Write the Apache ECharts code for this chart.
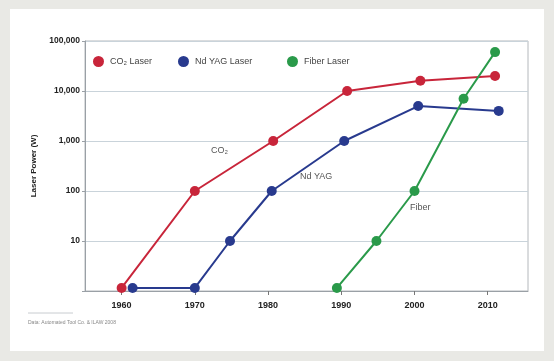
<!DOCTYPE html>
<html><head><meta charset="utf-8">
<script src="https://cdn.jsdelivr.net/npm/echarts@6/dist/echarts.min.js"></script>
<style>html,body{margin:0;padding:0;background:#e9e9e5}#c{width:554px;height:361px}</style>
</head><body><div id="c"></div>
<script>
const seriesNames = ['CO\u2082 Laser', 'Nd YAG Laser', 'Fiber Laser'];
const co2Years = [1960, 1970, 1980.7, 1990.8, 2000.8, 2011];
const co2Power = [1.15, 100, 1000, 10000, 16000, 20000];
const yagYears = [1961.5, 1970, 1974.8, 1980.5, 1990.4, 2000.5, 2011.5];
const yagPower = [1.15, 1.15, 10, 100, 1000, 5000, 4000];
const fiberYears = [1989.4, 1994.8, 2000, 2006.7, 2011];
const fiberPower = [1.15, 10, 100, 7000, 60000];
const xTicks = [1960, 1970, 1980, 1990, 2000, 2010];
const yTicks = [10, 100, 1000, 10000, 100000];
const colors = ['#c8253a', '#283a8e', '#2a9a4a'];

const pairs = (xs, ys) => xs.map((x, i) => [x, ys[i]]);
const chart = echarts.init(document.getElementById('c'));
const mk = (name, data, color) => ({
  name, type: 'line', data, color,
  symbol: 'circle', symbolSize: 10,
  lineStyle: { width: 2, color },
  itemStyle: { color },
  z: 3
});
const legendAt = (name, left) => ({
  left, top: 51, itemWidth: 11, itemHeight: 11, icon: 'circle', itemGap: 0,
  textStyle: { fontSize: 9, color: '#444', fontFamily: 'Arial, sans-serif', padding: [0, 0, 0, 1] },
  data: [name]
});
chart.setOption({
  backgroundColor: '#e9e9e5',
  animation: false,
  graphic: [
    { type: 'rect', z: -100, shape: { x: 10, y: 9, width: 534, height: 342 }, style: { fill: '#ffffff' } },
    { type: 'text', left: 211, top: 146, style: { text: 'CO\u2082', font: '9px Arial, sans-serif', fill: '#555' } },
    { type: 'text', left: 300, top: 172, style: { text: 'Nd YAG', font: '9px Arial, sans-serif', fill: '#555' } },
    { type: 'text', left: 410, top: 203, style: { text: 'Fiber', font: '9px Arial, sans-serif', fill: '#555' } },
    { type: 'line', shape: { x1: 28, y1: 313, x2: 73, y2: 313 }, style: { stroke: '#c8ccd0', lineWidth: 1 } },
    { type: 'text', left: 28, top: 320, style: { text: 'Data: Automated Tool Co. & ILAW 2008', font: '5px Arial, sans-serif', fill: '#888' } }
  ],
  legend: [
    legendAt(seriesNames[0], 88),
    legendAt(seriesNames[1], 173),
    legendAt(seriesNames[2], 282)
  ],
  grid: { left: 85, right: 26, top: 41, bottom: 70, show: true, borderColor: '#b4b8bc', borderWidth: 1 },
  xAxis: {
    type: 'value', min: 1955, max: 2015.5,
    axisLine: { lineStyle: { color: '#9aa0a6' } },
    axisTick: { customValues: xTicks, length: 4, lineStyle: { color: '#777' } },
    axisLabel: { customValues: xTicks, formatter: v => String(v), fontSize: 9, fontWeight: 'bold', color: '#222', margin: 10, fontFamily: 'Arial, sans-serif' },
    splitLine: { show: false }
  },
  yAxis: {
    type: 'log', logBase: 10, min: 1, max: 100000,
    name: 'Laser Power (W)', nameLocation: 'middle', nameGap: 47,
    nameTextStyle: { fontSize: 8, fontWeight: 'bold', color: '#222', fontFamily: 'Arial, sans-serif' },
    axisLine: { show: true, lineStyle: { color: '#9aa0a6' } },
    axisTick: { show: true, length: 3, lineStyle: { color: '#9aa0a6' } },
    axisLabel: {
      fontSize: 8.5, fontWeight: 'bold', color: '#222', margin: 5, fontFamily: 'Arial, sans-serif',
      formatter: v => (yTicks.indexOf(Math.round(v)) >= 0 ? Math.round(v).toLocaleString('en-US') : '')
    },
    splitLine: { show: true, lineStyle: { color: '#c9d3da', width: 1 } }
  },
  series: [
    mk(seriesNames[0], pairs(co2Years, co2Power), colors[0]),
    mk(seriesNames[1], pairs(yagYears, yagPower), colors[1]),
    mk(seriesNames[2], pairs(fiberYears, fiberPower), colors[2])
  ]
});
</script></body></html>
